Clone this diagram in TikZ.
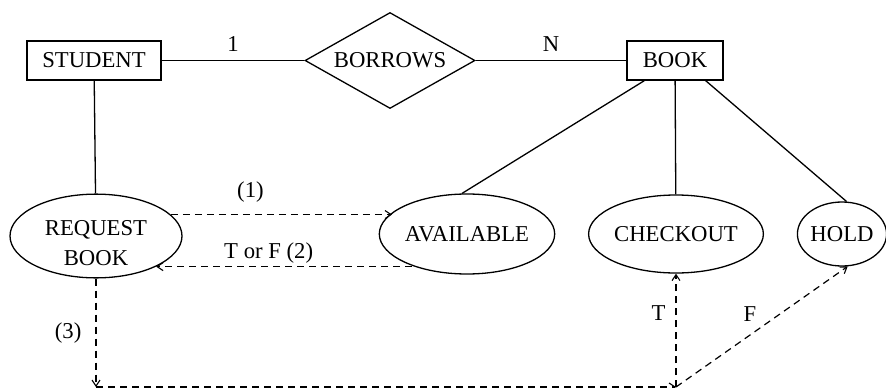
\documentclass[tikz,border=0pt]{standalone}
\usepackage{fontspec}
\setmainfont{Liberation Serif}
\usetikzlibrary{shapes.geometric,arrows.meta}
\begin{document}
\begin{tikzpicture}[x=1pt,y=-1pt,
  txt/.style={font=\fontsize{22.7}{30}\selectfont, inner sep=0pt},
  entity/.style={txt, draw, line width=1.3pt, minimum height=39pt},
  relation/.style={txt, draw, diamond, aspect=1.77, line width=1.3pt, minimum width=170pt, minimum height=96pt},
  attr/.style={txt, draw, ellipse, line width=1.3pt, align=center},
  link/.style={line width=1.3pt},
  flow/.style={line width=1.2pt, dash pattern=on 7pt off 5pt, -{Straight Barb[length=6pt,width=8pt,line width=1.1pt]}},
  lbl/.style={txt}]
  \useasboundingbox (0,0) rectangle (886,388);

  % entities and relationship
  \node[entity, minimum width=134pt] (student) at (94,60.5) {STUDENT};
  \node[relation] (borrows) at (390,60.5) {BORROWS};
  \node[entity, minimum width=96pt] (book) at (675,60.5) {BOOK};

  % processes
  \node[attr, minimum width=172pt, minimum height=78pt] (req) at (96,236) {\rule{0pt}{29pt}REQUEST\\BOOK};
  \node[attr, minimum width=170pt, minimum height=80pt] (avail) at (467,234) {AVAILABLE};
  \node[attr, minimum width=152pt, minimum height=78pt] (checkout) at (676,234) {CHECKOUT};
  \node[attr, minimum width=84pt, minimum height=64pt] (hold) at (842,234) {HOLD};

  % corners of the request path
  \coordinate (c1) at (96,387);
  \coordinate (c2) at (676,387);
  \coordinate (bsw) at ([xshift=18pt]book.south west);
  \coordinate (bse) at ([xshift=-18pt]book.south east);

  % structural links
  \draw[link] (student) -- node[lbl, above=8pt] {1} (borrows);
  \draw[link] (borrows) -- node[lbl, above=8pt] {N} (book);
  \draw[link] (student) -- (req);
  \draw[link] (bsw) -- (avail.97);
  \draw[link] (book) -- (checkout);
  \draw[link] (bse) -- (hold.82);

  % message flows
  \draw[flow] (req.16) -- node[lbl, pos=0.36, above=12pt] {(1)} (req.16 -| avail.164);
  \draw[flow] (avail.210 |- req.333) -- node[lbl, pos=0.56, above=3pt] {T or F (2)} (req.333);
  \draw[flow] (req.south) -- node[lbl, left=14pt] {(3)} (c1);
  \draw[flow] (c1) -- (c2);
  \draw[flow] (c2) -- node[lbl, pos=0.65, left=10pt] {T} (checkout.south);
  \draw[flow] (c2) -- node[lbl, pos=0.43, above=13pt] {F} (hold.-80);
\end{tikzpicture}
\end{document}
